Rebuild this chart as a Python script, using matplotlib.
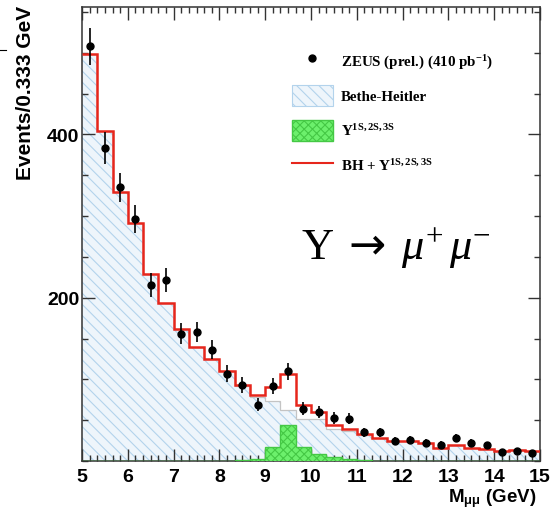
import numpy as np
import matplotlib.pyplot as plt
from matplotlib.lines import Line2D
from matplotlib.patches import Patch
from matplotlib.ticker import MultipleLocator, FixedLocator

plt.rcParams['mathtext.fontset'] = 'custom'
plt.rcParams['mathtext.rm'] = 'Liberation Serif'
plt.rcParams['mathtext.it'] = 'Liberation Serif:italic'
plt.rcParams['mathtext.bf'] = 'Liberation Serif:bold'
plt.rcParams['mathtext.sf'] = 'Liberation Sans:bold'
plt.rcParams['mathtext.tt'] = 'DejaVu Sans'
plt.rcParams['hatch.linewidth'] = 0.8

# dimuon mass, 30 bins of 0.333 GeV between 5 and 15 GeV
m_lo, m_hi, n_bins = 5.0, 15.0, 30

# ZEUS preliminary data (events per bin)
zeus = [508, 383, 335, 296, 215, 222, 156, 158, 136, 107,
        93, 69, 92, 110, 64, 60, 53, 52, 35, 35,
        25, 26, 22, 20, 28, 22, 19, 11, 12, 10]

# Bethe-Heitler dimuon background
bh = [498, 404, 330, 292, 229, 193, 162, 140, 125, 110,
      92, 79, 74, 63, 52, 51, 39, 37, 32, 28,
      25, 25, 22, 16, 19, 16, 15, 12, 13, 12]

# Upsilon(1S,2S,3S) signal
ups = [0, 0, 0, 0, 0, 0, 0, 0, 0, 0,
       1, 2, 17, 44, 17, 9, 5, 2, 1, 0,
       0, 0, 0, 0, 0, 0, 0, 0, 0, 0]

edges = np.linspace(m_lo, m_hi, n_bins + 1)
centres = 0.5 * (edges[:-1] + edges[1:])
zeus = np.array(zeus, dtype=float)
bh = np.array(bh, dtype=float)
ups = np.array(ups, dtype=float)
total = bh + ups

fig = plt.figure(figsize=(5.53, 5.10), dpi=100)
ax = fig.add_axes([0.1483, 0.0941, 0.8282, 0.8902])

bh_face, bh_hatch = '#eef5fb', '#b3d3ec'
gr_face, gr_hatch = '#6cf06c', '#45c845'
red = '#e6261c'

ax.stairs(bh, edges, fill=True, facecolor=bh_face, edgecolor=bh_hatch,
          hatch='\\\\\\', linewidth=0, zorder=1)
ax.stairs(bh, edges, baseline=None, color='#c4c4c4', linewidth=0.9, zorder=2)
ax.stairs(ups, edges, fill=True, facecolor=gr_face, edgecolor=gr_hatch,
          hatch='xxxx', linewidth=1.0, zorder=3)
ax.stairs(total, edges, baseline=None, color=red, linewidth=1.8, zorder=4)
ax.errorbar(centres, zeus, yerr=np.sqrt(zeus), fmt='o', color='black',
            markersize=5, elinewidth=1.2, capsize=0, zorder=5)

ax.set_xlim(m_lo, m_hi)
ax.set_ylim(0, 556)

ax.xaxis.set_major_locator(MultipleLocator(1))
ax.xaxis.set_minor_locator(MultipleLocator(1 / 6))
ax.yaxis.set_major_locator(FixedLocator([200, 400]))
ax.yaxis.set_minor_locator(MultipleLocator(50))
ax.tick_params(which='both', direction='in', top=True, right=True,
               colors='#333333', width=1.0)
ax.tick_params(which='major', length=9)
ax.tick_params(which='minor', length=4.5)
ax.tick_params(axis='x', pad=5)
ax.tick_params(axis='y', pad=2)
for lab in ax.get_xticklabels() + ax.get_yticklabels():
    lab.set_fontfamily('Liberation Sans')
    lab.set_fontweight('bold')
    lab.set_fontsize(14)
    lab.set_color('black')
for sp in ax.spines.values():
    sp.set_color('#333333')
    sp.set_linewidth(1.1)

ax.set_ylabel('Events/0.333 GeV', loc='top', fontfamily='Liberation Sans',
              fontweight='bold', fontsize=15)
ax.yaxis.set_label_coords(-0.103, 1.005)
ax.set_xlabel(r'M$_{\mathsf{\mu\mu}}$ (GeV)', loc='right',
              fontfamily='Liberation Sans', fontweight='bold', fontsize=13.5)
ax.xaxis.set_label_coords(0.993, -0.055)

handles = [
    Line2D([], [], marker='o', color='black', linestyle='none', markersize=5),
    Patch(facecolor=bh_face, edgecolor=bh_hatch, hatch='\\\\\\', linewidth=0.8),
    Patch(facecolor=gr_face, edgecolor=gr_hatch, hatch='xxxx', linewidth=1.0),
    Line2D([], [], color=red, linewidth=1.5),
]
labels = [
    r'ZEUS (prel.) (410 pb$^{\mathbf{-1}}$)',
    'Bethe-Heitler',
    r'Υ$^{\mathbf{1S,2S,3S}}$',
    r'BH + Υ$^{\mathbf{1S,2S,3S}}$',
]
ax.legend(handles, labels, loc='upper left', bbox_to_anchor=(0.4585, 0.905),
          frameon=False, prop={'family': 'Liberation Serif', 'weight': 'bold',
                               'size': 10.8},
          handlelength=2.7, handleheight=1.75, labelspacing=0.95,
          handletextpad=0.55, borderpad=0, borderaxespad=0)

ax.text(0.478, 0.47, r'$\Upsilon\;\mathtt{\rightarrow}\;\mu^{+}\,\mu^{-}$',
        transform=ax.transAxes, fontsize=32, ha='left', va='center')

fig.add_artist(Line2D([0, 0.011], [0.9, 0.9], color='black', linewidth=0.8))

fig.savefig('out.png', dpi=100)
